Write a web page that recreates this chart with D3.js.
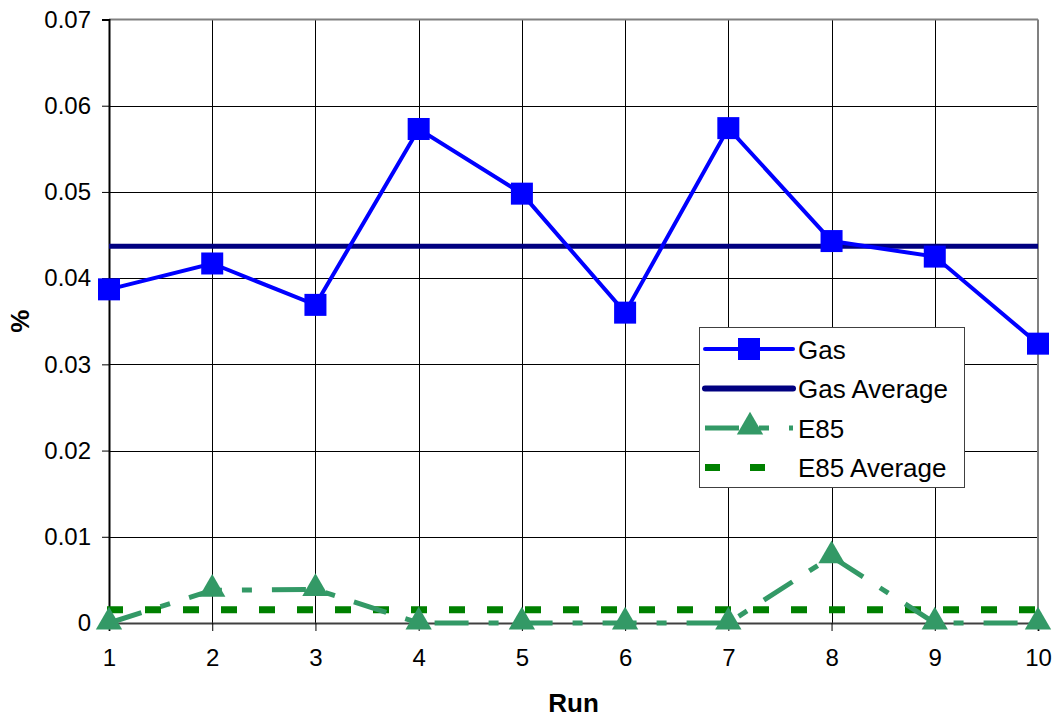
<!DOCTYPE html>
<html>
<head>
<meta charset="utf-8">
<script src="https://cdn.jsdelivr.net/npm/d3@7"></script>
<style>
  body { margin: 0; background: #fff; }
  svg text { font-family: "Liberation Sans", Arial, sans-serif; }
</style>
</head>
<body>
<svg id="chart" width="1058" height="719"></svg>
<script>
const runs = [1, 2, 3, 4, 5, 6, 7, 8, 9, 10];
const gas = [0.0387, 0.0417, 0.0369, 0.0573, 0.0498, 0.0360, 0.0574, 0.0443, 0.0425, 0.0324];
const gasAverage = 0.04370;
const e85 = [0, 0.0038, 0.0039, 0, 0, 0, 0, 0.0077, 0, 0];
const e85Average = 0.00154;
const yTicks = [0, 0.01, 0.02, 0.03, 0.04, 0.05, 0.06, 0.07];

const GAS_COLOR = "#0000ff";
const GAS_AVG_COLOR = "#000080";
const E85_COLOR = "#339966";
const E85_AVG_COLOR = "#008000";
const E85_DASH = "34,20,10,20";
const E85_AVG_DASH = "16,22";

const margin = { left: 109, right: 1038, top: 19.5, bottom: 623 };
const svg = d3.select("#chart");

const x = d3.scaleLinear().domain([1, 10]).range([margin.left, margin.right]);
const y = d3.scaleLinear().domain([0, 0.07]).range([margin.bottom, margin.top]);

// grid
const grid = svg.append("g").attr("class", "grid");
grid.selectAll(".hgrid")
    .data(yTicks.slice(1, -1))
    .enter().append("line")
    .attr("x1", margin.left).attr("x2", margin.right)
    .attr("y1", (d) => Math.round(y(d)) + 0.5).attr("y2", (d) => Math.round(y(d)) + 0.5)
    .attr("stroke", "#000").attr("stroke-width", 1);
grid.selectAll(".vgrid")
    .data(runs.slice(1, -1))
    .enter().append("line")
    .attr("x1", (d) => Math.round(x(d)) + 0.5).attr("x2", (d) => Math.round(x(d)) + 0.5)
    .attr("y1", margin.top).attr("y2", margin.bottom)
    .attr("stroke", "#000").attr("stroke-width", 1);

// plot border (top / right in grey)
svg.append("line")
    .attr("x1", margin.left).attr("x2", margin.right)
    .attr("y1", margin.top).attr("y2", margin.top)
    .attr("stroke", "#808080").attr("stroke-width", 2);
svg.append("line")
    .attr("x1", margin.right).attr("x2", margin.right)
    .attr("y1", margin.top).attr("y2", margin.bottom)
    .attr("stroke", "#808080").attr("stroke-width", 2);

// axes
const xAxis = d3.axisBottom(x).tickValues(runs).tickSize(8).tickPadding(18).tickFormat(d3.format("d"));
const yAxis = d3.axisLeft(y).tickValues(yTicks).tickSize(7).tickPadding(11)
    .tickFormat((d) => d === 0 ? "0" : d3.format(".2f")(d));

svg.append("g")
    .attr("transform", "translate(0," + margin.bottom + ")")
    .call(xAxis)
    .attr("font-size", 24).attr("font-family", "Liberation Sans, Arial, sans-serif")
    .call((g) => g.select(".domain").attr("stroke", "#404040").attr("stroke-width", 2))
    .call((g) => g.selectAll(".tick line").attr("stroke", "#000"))
    .call((g) => g.selectAll(".tick text").attr("fill", "#000"));

svg.append("g")
    .attr("transform", "translate(" + margin.left + ",0)")
    .call(yAxis)
    .attr("font-size", 24).attr("font-family", "Liberation Sans, Arial, sans-serif")
    .call((g) => g.select(".domain").attr("stroke", "#000").attr("stroke-width", 2))
    .call((g) => g.selectAll(".tick line").attr("stroke", "#000"))
    .call((g) => g.selectAll(".tick text").attr("fill", "#000"));

// axis titles
svg.append("text")
    .attr("x", (margin.left + margin.right) / 2).attr("y", 712)
    .attr("text-anchor", "middle")
    .attr("font-size", 26).attr("font-weight", "bold")
    .text("Run");
svg.append("text")
    .attr("transform", "translate(29," + ((margin.top + margin.bottom) / 2) + ") rotate(-90)")
    .attr("text-anchor", "middle")
    .attr("font-size", 26).attr("font-weight", "bold")
    .text("%");

const line = d3.line().x((d, i) => x(runs[i])).y((d) => y(d));
const triangle = d3.symbol().type(d3.symbolTriangle).size(300);

// E85 average
svg.append("line")
    .attr("x1", x(1) - 2).attr("x2", x(10))
    .attr("y1", y(e85Average)).attr("y2", y(e85Average))
    .attr("stroke", E85_AVG_COLOR).attr("stroke-width", 7)
    .attr("stroke-dasharray", E85_AVG_DASH);

// E85 series
svg.append("path")
    .datum(e85)
    .attr("d", line)
    .attr("fill", "none")
    .attr("stroke", E85_COLOR).attr("stroke-width", 5)
    .attr("stroke-dasharray", E85_DASH);
svg.selectAll(".e85-marker")
    .data(e85)
    .enter().append("path")
    .attr("class", "e85-marker")
    .attr("transform", (d, i) => "translate(" + x(runs[i]) + "," + (y(d) - 1) + ")")
    .attr("d", triangle)
    .attr("fill", E85_COLOR);

// Gas average
svg.append("line")
    .attr("x1", x(1)).attr("x2", x(10))
    .attr("y1", y(gasAverage)).attr("y2", y(gasAverage))
    .attr("stroke", GAS_AVG_COLOR).attr("stroke-width", 5);

// Gas series
svg.append("path")
    .datum(gas)
    .attr("d", line)
    .attr("fill", "none")
    .attr("stroke", GAS_COLOR).attr("stroke-width", 4);
svg.selectAll(".gas-marker")
    .data(gas)
    .enter().append("rect")
    .attr("class", "gas-marker")
    .attr("x", (d, i) => x(runs[i]) - 11).attr("y", (d) => y(d) - 11)
    .attr("width", 22).attr("height", 22)
    .attr("fill", GAS_COLOR);

// legend
const legendItems = [
    { label: "Gas", color: GAS_COLOR, width: 4, dash: null, marker: "square" },
    { label: "Gas Average", color: GAS_AVG_COLOR, width: 6, dash: null, marker: null },
    { label: "E85", color: E85_COLOR, width: 5, dash: E85_DASH, marker: "triangle" },
    { label: "E85 Average", color: E85_AVG_COLOR, width: 7, dash: "15,30", marker: null }
];
const legend = svg.append("g").attr("transform", "translate(699,327)");
legend.append("rect")
    .attr("x", 0.5).attr("y", 0.5).attr("width", 265).attr("height", 160)
    .attr("fill", "#fff").attr("stroke", "#404040").attr("stroke-width", 1);
const rows = legend.selectAll(".legend-row")
    .data(legendItems)
    .enter().append("g")
    .attr("transform", (d, i) => "translate(0," + (22 + i * 39.5) + ")");
rows.append("line")
    .attr("x1", 6).attr("x2", 94)
    .attr("stroke", (d) => d.color).attr("stroke-width", (d) => d.width)
    .attr("stroke-linecap", (d) => d.dash ? "butt" : "round")
    .attr("stroke-dasharray", (d) => d.dash);
rows.filter((d) => d.marker === "square").append("rect")
    .attr("x", 39).attr("y", -11).attr("width", 22).attr("height", 22)
    .attr("fill", (d) => d.color);
rows.filter((d) => d.marker === "triangle").append("path")
    .attr("transform", "translate(51,-1)")
    .attr("d", triangle)
    .attr("fill", (d) => d.color);
rows.append("text")
    .attr("x", 99).attr("y", 9.5)
    .attr("font-size", 26).attr("fill", "#000")
    .text((d) => d.label);
</script>
</body>
</html>
